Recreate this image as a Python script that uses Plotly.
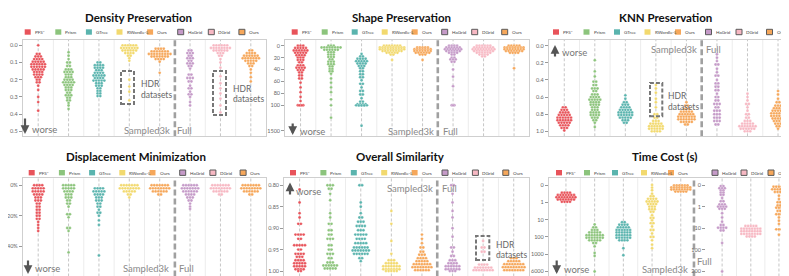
import math
import plotly.graph_objects as go

W, H = 789, 276

methods = ["PFS*", "Prism", "GTree", "RWordle-L", "Ours", "HaGrid", "DGrid", "Ours"]
colors = ["#e8535a", "#8cc47c", "#5ab4ae", "#f2d96e", "#f6a75a", "#c59ac8", "#f7b8c3", "#f6a75a"]

# ---- data: each group is a list of (value, number of dots at that value) ----
density_rows = [
    [(0.00, 1), (0.05, 2), (0.065, 3), (0.08, 4), (0.095, 5), (0.11, 6), (0.125, 6), (0.14, 5), (0.155, 4), (0.17, 4), (0.185, 3), (0.20, 2), (0.215, 2), (0.235, 1), (0.26, 1), (0.30, 1), (0.33, 1), (0.38, 1)],
    [(0.04, 1), (0.06, 1), (0.08, 1), (0.10, 2), (0.12, 2), (0.14, 3), (0.155, 4), (0.17, 3), (0.185, 3), (0.20, 4), (0.215, 5), (0.23, 4), (0.245, 3), (0.26, 3), (0.275, 2), (0.29, 3), (0.305, 2), (0.32, 2), (0.335, 1), (0.35, 1), (0.37, 1)],
    [(0.10, 2), (0.115, 4), (0.13, 4), (0.145, 3), (0.16, 4), (0.175, 5), (0.19, 4), (0.205, 5), (0.22, 3), (0.235, 3), (0.25, 2), (0.265, 2), (0.28, 2), (0.295, 2)],
    [(0.00, 6), (0.015, 7), (0.03, 6), (0.045, 4), (0.06, 2), (0.075, 1), (0.09, 1), (0.20, 1), (0.24, 1), (0.27, 1), (0.32, 1)],
    [(0.02, 4), (0.035, 7), (0.05, 9), (0.065, 7), (0.08, 4), (0.095, 1), (0.16, 1)],
    [(0.03, 2), (0.045, 3), (0.06, 2), (0.075, 3), (0.09, 2), (0.105, 3), (0.12, 2), (0.135, 1), (0.17, 2), (0.19, 3), (0.21, 2), (0.235, 1), (0.25, 2), (0.27, 1), (0.285, 2), (0.30, 1), (0.33, 1), (0.35, 1)],
    [(0.00, 6), (0.015, 8), (0.03, 6), (0.045, 3), (0.06, 2), (0.08, 1), (0.10, 1), (0.13, 1), (0.18, 1), (0.22, 1), (0.25, 1), (0.28, 1), (0.31, 1), (0.35, 1), (0.39, 1)],
    [(0.03, 2), (0.045, 4), (0.06, 6), (0.075, 7), (0.09, 5), (0.105, 3), (0.12, 2), (0.14, 1), (0.16, 1), (0.185, 1), (0.21, 1)],
]
density_ticks = [0.0, 0.1, 0.2, 0.3, 0.4, 0.5]
density_labels = ["0.0", "0.1", "0.2", "0.3", "0.4", "0.5"]

shape_rows = [
    [(0, 3), (4, 5), (8, 6), (12, 5), (16, 4), (20, 3), (24, 3), (28, 2), (33, 3), (37, 4), (41, 3), (45, 2), (50, 2), (55, 2), (62, 1), (70, 1), (78, 1), (86, 1), (93, 1), (100, 3), (104, 2)],
    [(0, 3), (3, 8), (7, 6), (11, 3), (15, 3), (19, 3), (23, 2), (27, 3), (31, 3), (35, 2), (39, 2), (43, 2), (47, 1), (55, 1), (62, 1), (70, 1), (78, 1), (90, 1), (104, 1), (780, 1)],
    [(14, 1), (18, 2), (22, 4), (26, 5), (30, 4), (34, 3), (38, 2), (43, 2), (48, 2), (53, 2), (58, 1), (64, 2), (70, 1), (76, 2), (82, 2), (88, 1), (94, 2), (98, 4), (102, 5), (106, 3), (1230, 1)],
    [(0, 7), (3, 10), (6, 10), (9, 8), (12, 5), (15, 2), (24, 1)],
    [(3, 5), (6, 7), (9, 7), (12, 6), (15, 3), (24, 1)],
    [(0, 4), (3, 6), (6, 7), (9, 6), (12, 4), (15, 2), (20, 2), (23, 3), (27, 2), (40, 1), (52, 1), (68, 1), (100, 2), (104, 1)],
    [(0, 6), (3, 8), (6, 9), (9, 8), (12, 6), (15, 4), (18, 2)],
    [(0, 5), (3, 8), (6, 8), (9, 7), (12, 4), (38, 1)],
]
shape_ticks = [0, 20, 40, 60, 80, 100, 1500]
shape_labels = ["0", "20", "40", "60", "80", "100", "1500"]

knn_rows = [
    [(0.72, 2), (0.75, 3), (0.78, 4), (0.81, 5), (0.84, 6), (0.87, 6), (0.90, 5), (0.93, 4), (0.96, 3), (0.99, 1)],
    [(0.17, 1), (0.30, 1), (0.36, 1), (0.42, 2), (0.46, 2), (0.50, 3), (0.53, 2), (0.57, 3), (0.60, 4), (0.63, 5), (0.66, 4), (0.69, 4), (0.72, 3), (0.75, 3), (0.78, 4), (0.81, 4), (0.84, 3), (0.87, 2), (0.90, 1), (0.95, 1)],
    [(0.58, 1), (0.62, 1), (0.66, 2), (0.69, 3), (0.72, 4), (0.75, 5), (0.78, 6), (0.81, 6), (0.84, 5), (0.87, 3), (0.90, 2)],
    [(0.46, 1), (0.50, 1), (0.55, 1), (0.62, 1), (0.66, 1), (0.72, 1), (0.80, 2), (0.84, 2), (0.88, 3), (0.91, 5), (0.94, 6), (0.97, 6), (1.00, 4)],
    [(0.66, 1), (0.70, 2), (0.74, 3), (0.77, 5), (0.80, 6), (0.83, 7), (0.86, 7), (0.89, 5), (0.92, 2)],
    [(0.10, 1), (0.14, 1), (0.18, 1), (0.22, 2), (0.27, 1), (0.31, 1), (0.35, 2), (0.40, 1), (0.44, 2), (0.48, 2), (0.52, 2), (0.56, 1), (0.60, 2), (0.64, 2), (0.68, 3), (0.72, 2), (0.76, 3), (0.80, 3), (0.84, 3), (0.88, 3), (0.92, 2)],
    [(0.56, 1), (0.60, 1), (0.64, 1), (0.68, 2), (0.72, 1), (0.76, 1), (0.80, 2), (0.84, 2), (0.88, 3), (0.91, 5), (0.94, 7), (0.97, 6), (1.00, 3)],
    [(0.53, 1), (0.57, 1), (0.62, 1), (0.66, 2), (0.70, 3), (0.73, 4), (0.76, 5), (0.79, 6), (0.82, 6), (0.85, 5), (0.88, 4), (0.91, 3), (0.94, 2), (0.97, 1)],
]
knn_ticks = [0.0, 0.2, 0.4, 0.6, 0.8, 1.0]
knn_labels = ["0.0", "0.2", "0.4", "0.6", "0.8", "1.0"]

displacement_rows = [
    [(0, 4), (2, 5), (4, 5), (6, 4), (8, 3), (10, 3), (12, 2), (14, 2), (16, 2), (18, 2), (20, 2), (22, 2), (24, 1), (26, 1), (28, 1), (30, 1)],
    [(0, 5), (2, 5), (4, 4), (6, 3), (8, 3), (10, 2), (12, 2), (14, 1), (19, 2), (21, 1), (28, 2), (30, 1), (44, 1)],
    [(2, 4), (4, 5), (6, 4), (8, 3), (10, 3), (12, 2), (14, 2), (16, 1), (18, 2), (20, 1), (23, 1), (26, 1), (46, 1)],
    [(0, 7), (2, 8), (4, 5), (6, 2), (8, 1)],
    [(0, 7), (2, 8), (4, 6), (6, 2)],
    [(0, 6), (2, 7), (4, 6), (6, 4), (8, 3), (10, 2), (12, 1), (14, 1), (15.5, 1)],
    [(0, 7), (2, 8), (4, 6), (6, 2)],
    [(0, 7), (2, 8), (4, 6), (6, 2)],
]
displacement_ticks = [0, 20, 40, 60]
displacement_labels = ["0%", "20%", "40%", "60%"]

similarity_rows = [
    [(0.81, 1), (0.84, 1), (0.865, 1), (0.875, 1), (0.89, 2), (0.915, 4), (0.925, 2), (0.94, 5), (0.95, 2), (0.96, 4), (0.967, 3), (0.975, 4), (0.982, 5), (0.989, 5), (0.996, 4), (1.0, 2)],
    [(0.80, 3), (0.808, 2), (0.82, 1), (0.835, 1), (0.865, 1), (0.875, 1), (0.89, 2), (0.905, 2), (0.915, 2), (0.925, 3), (0.94, 2), (0.95, 2), (0.96, 3), (0.97, 2), (0.98, 3), (0.987, 6), (0.994, 5)],
    [(0.80, 2), (0.84, 1), (0.85, 1), (0.865, 1), (0.875, 2), (0.885, 3), (0.895, 4), (0.905, 3), (0.915, 5), (0.925, 4), (0.935, 5), (0.945, 6), (0.952, 7), (0.96, 6), (0.97, 2), (0.977, 1)],
    [(0.86, 1), (0.89, 1), (0.93, 1), (0.96, 1), (0.975, 3), (0.982, 5), (0.989, 7), (0.996, 7), (1.0, 5)],
    [(0.915, 1), (0.925, 1), (0.935, 1), (0.945, 2), (0.955, 2), (0.962, 3), (0.97, 4), (0.977, 5), (0.984, 7), (0.991, 8), (0.998, 6)],
    [(0.80, 2), (0.82, 1), (0.84, 1), (0.86, 1), (0.875, 1), (0.90, 1), (0.92, 1), (0.945, 2), (0.955, 1), (0.965, 2), (0.975, 3), (0.982, 4), (0.989, 6), (0.996, 6), (1.0, 3)],
    [(0.93, 1), (0.945, 2), (0.955, 2), (0.985, 4), (0.992, 7), (0.998, 8)],
    [(0.97, 3), (0.977, 5), (0.984, 8), (0.991, 9), (0.998, 8)],
]
similarity_ticks = [0.80, 0.85, 0.90, 0.95, 1.00]
similarity_labels = ["0.80", "0.85", "0.90", "0.95", "1.00"]

time_rows = [
    [(0.45, 4), (0.58, 7), (0.71, 8), (0.84, 7), (0.97, 4)],
    [(19, 1), (28, 2), (40, 3), (56, 5), (79, 7), (112, 7), (158, 5), (224, 2), (355, 1), (850, 1), (1500, 1), (6000, 1)],
    [(14, 2), (20, 4), (28, 5), (40, 6), (56, 6), (79, 6), (112, 6), (158, 4), (450, 1), (1300, 1)],
    [(0.0, 1), (0.15, 1), (0.3, 1), (0.5, 1), (0.65, 2), (0.8, 4), (0.95, 5), (1.26, 4), (1.78, 3), (2.5, 3), (3.5, 2), (5.6, 1), (8, 2), (11, 1), (16, 2), (25, 1), (40, 2), (63, 1), (100, 2), (158, 1), (280, 1), (450, 1)],
    [(0.02, 6), (0.14, 8), (0.26, 8), (0.38, 5)],
    [(0.05, 2), (0.15, 3), (0.25, 2), (0.35, 2), (0.45, 2), (0.6, 1), (0.75, 2), (0.9, 3), (1.0, 4), (1.26, 3), (2.0, 1), (3.2, 1), (5.0, 1), (7.1, 2), (9.5, 4), (12.6, 2), (48, 1), (200, 1)],
    [(7.9, 5), (10.5, 8), (13.8, 8), (18.2, 8), (24, 4)],
    [(0.08, 5), (0.2, 6), (0.32, 4), (0.5, 1), (0.65, 1), (0.8, 2), (0.95, 2), (1.12, 3), (1.58, 2), (2.24, 3), (3.16, 1), (4.47, 1), (6.3, 1), (11.2, 3), (20, 1)],
]
time_ticks_sampled = [0, 1, 10, 100, 1000, 6000]
time_ticks_full = [0, 1, 10, 100, 200]


# ---- broken-axis scales ----
def ident(v):
    return v


def shape_scale(v):
    return v if v <= 100 else 100 + (v - 100) * 42.6 / 1400


def time_scale_sampled(v):
    if v <= 1:
        return v
    if v <= 1000:
        return 1 + math.log10(v)
    return 4 + (v - 1000) / 5000


def time_scale_full(v):
    if v <= 1:
        return v
    if v <= 100:
        return 1 + math.log10(v)
    return 3 + (v - 100) / 100


def px(x):
    return x / W


def py(y):
    return 1 - y / H


GRAY_TXT = "#8a8a8a"
FONT = "Lato"

panels = [
    dict(title="Density Preservation", tc=(130, 9.5), box=(15, 258, 31.7, 128.3),
         rows=density_rows, tf=ident, yr=(0.529, -0.033), ticks=density_ticks, labels=density_labels,
         legend=[16.7 + 30.6 * i for i in range(8)], ly=24,
         worse=(22, 122, 17, 109, 126), samp=(138.5, 122.5), full=(176, 122.5),
         hdr=[((113, 126, 63, 96), (131, 76, 87.3)), ((205, 218, 63, 107), (222.7, 81, 90.7))]),
    dict(title="Shape Preservation", tc=(393, 9.5), box=(277.3, 521.3, 31.7, 128.3),
         rows=shape_rows, tf=shape_scale, yr=(152, -10), ticks=[shape_scale(t) for t in shape_ticks], labels=shape_labels,
         legend=[283.7 + 30 * i for i in range(8)], ly=24,
         worse=(289.7, 123.3, 284.7, 114, 127), samp=(403, 123), full=(442.5, 123), hdr=[]),
    dict(title="KNN Preservation", tc=(657.7, 9.5), box=(541, 785.3, 31.7, 128.3),
         rows=knn_rows, tf=ident, yr=(1.058, -0.07), ticks=knn_ticks, labels=knn_labels,
         legend=[545 + 30.5 * i for i in range(8)], ly=24,
         worse=(552, 44.3, 547, 50, 37), samp=(666, 41.5), full=(705.5, 41.5),
         hdr=[((642, 654.3, 75, 108.3), (657.7, 88.3, 99.3))]),
    dict(title="Displacement Minimization", tc=(128.3, 148), box=(15, 258, 170.3, 268.5),
         rows=displacement_rows, tf=ident, yr=(59.8, -4.6), ticks=displacement_ticks, labels=displacement_labels,
         legend=[20.7 + 30.2 * i for i in range(8)], ly=164.7,
         worse=(25, 260.7, 20, 251, 266), samp=(138.3, 260.7), full=(178, 260.7), hdr=[]),
    dict(title="Overall Similarity", tc=(392, 148), box=(276.3, 521, 170.3, 268.5),
         rows=similarity_rows, tf=ident, yr=(1.0128, 0.7837), ticks=similarity_ticks, labels=similarity_labels,
         legend=[282 + 30.4 * i for i in range(8)], ly=164.7,
         worse=(286.3, 183.7, 282, 188, 174.5), samp=(402, 180.7), full=(441.7, 180.7),
         hdr=[((468, 481.3, 228, 252), (485.7, 237.3, 247.3))]),
    dict(title="Time Cost (s)", tc=(656.8, 148), box=(541, 785.3, 170.3, 268.5),
         rows=time_rows, tf=time_scale_sampled, yr=(5.29, -0.39),
         ticks=[time_scale_sampled(t) for t in time_ticks_sampled], labels=[str(t) for t in time_ticks_sampled],
         legend=[548, 576, 604, 633, 660, 704, 733, 760], ly=164.7,
         worse=(553.7, 261.3, 548.7, 251, 266), samp=(656.7, 261.3), full=(696.3, 253), hdr=[]),
]

fig = go.Figure()
shapes, annotations = [], []
layout = dict(width=W, height=H, margin=dict(l=0, r=0, t=0, b=0), paper_bgcolor="white",
              plot_bgcolor="white", showlegend=False)

for k, p in enumerate(panels, start=1):
    sfx = "" if k == 1 else str(k)
    xref, yref = "x" + sfx, "y" + sfx
    x0, x1, y0, y1 = p["box"]
    if k == 6:
        centers = [0, 1, 2, 3, 4, 5.44, 6.44, 7.42]
        xr = (-0.59, 7.92)
        thin = [0.5, 1.5, 2.5, 3.5, 5.94, 6.93]
        sep = 4.46
    else:
        centers = list(range(8))
        xr = (-0.5, 7.5)
        thin = [0.5, 1.5, 2.5, 3.5, 5.5, 6.5]
        sep = 4.5
    ppu = (x1 - x0) / (xr[1] - xr[0])
    dx = 2.7 / ppu

    layout["xaxis" + sfx] = dict(domain=[px(x0), px(x1)], range=list(xr), anchor=yref,
                                 showline=True, mirror=True, linecolor="#cfcfcf", linewidth=1.3,
                                 showgrid=False, zeroline=False, showticklabels=False, ticks="")
    layout["yaxis" + sfx] = dict(domain=[py(y1), py(y0)], range=list(p["yr"]), anchor=xref,
                                 tickmode="array", tickvals=p["ticks"], ticktext=p["labels"],
                                 ticks="outside", ticklen=3, tickwidth=1, tickcolor="#999",
                                 tickfont=dict(family=FONT, size=5.5, color="#666"),
                                 showline=True, mirror=True, linecolor="#cfcfcf", linewidth=1.3,
                                 showgrid=False, zeroline=False)

    # guide lines
    for c in centers:
        shapes.append(dict(type="line", xref=xref, yref=yref + " domain", x0=c, x1=c, y0=0, y1=1,
                           line=dict(color="#b8b8b8", width=0.8, dash="3px,2px"), layer="below"))
    for t in thin:
        shapes.append(dict(type="line", xref=xref, yref=yref + " domain", x0=t, x1=t, y0=0, y1=1,
                           line=dict(color="#ececec", width=1), layer="below"))
    shapes.append(dict(type="line", xref=xref, yref=yref + " domain", x0=sep, x1=sep, y0=0, y1=1,
                       line=dict(color="#a0a0a0", width=2.6, dash="6px,3px"), layer="below"))

    # dots
    for g, rows in enumerate(p["rows"]):
        tf = p["tf"]
        ya = yref
        if k == 6 and g >= 5:
            tf = time_scale_full
            ya = "y7"
        xs, ys = [], []
        for v, n in rows:
            for i in range(n):
                xs.append(centers[g] + (i - (n - 1) / 2) * dx)
                ys.append(tf(v))
        fig.add_trace(go.Scatter(x=xs, y=ys, xaxis=xref, yaxis=ya, mode="markers", name=methods[g],
                                 marker=dict(color=colors[g], size=2.9,
                                             line=dict(color="white", width=0.25)),
                                 hoverinfo="skip"))

    # legend
    for g, lx in enumerate(p["legend"]):
        ly = p["ly"]
        shapes.append(dict(type="rect", xref="paper", yref="paper", x0=px(lx), x1=px(lx + 6),
                           y0=py(ly + 2.7), y1=py(ly - 2.7), fillcolor=colors[g],
                           line=dict(color="#5a5a5a" if g >= 5 else colors[g], width=1 if g >= 5 else 0)))
        annotations.append(dict(text=methods[g], x=px(lx + 8), y=py(ly), xref="paper", yref="paper",
                                xanchor="left", yanchor="middle", showarrow=False,
                                font=dict(family=FONT, size=4.6, color="#444")))

    # title
    annotations.append(dict(text=p["title"], x=px(p["tc"][0]), y=py(p["tc"][1]), xref="paper", yref="paper",
                            xanchor="center", yanchor="middle", showarrow=False,
                            font=dict(family=FONT, size=11.5, color="#111", weight="bold")))

    # worse arrow + texts
    wx, wy, ax_, ytail, ytip = p["worse"]
    annotations.append(dict(text="", x=px(ax_), y=py(ytip), xref="paper", yref="paper",
                            ax=0, ay=ytail - ytip, showarrow=True, arrowhead=2, arrowsize=0.8,
                            arrowwidth=2.2, arrowcolor="#555", standoff=0, startstandoff=0))
    annotations.append(dict(text="worse", x=px(wx), y=py(wy), xref="paper", yref="paper",
                            xanchor="left", yanchor="middle", showarrow=False,
                            font=dict(family=FONT, size=9.5, color="#777")))
    annotations.append(dict(text="Sampled3k", x=px(p["samp"][0]), y=py(p["samp"][1]), xref="paper",
                            yref="paper", xanchor="center", yanchor="middle", showarrow=False,
                            font=dict(family=FONT, size=9.5, color=GRAY_TXT)))
    annotations.append(dict(text="Full", x=px(p["full"][0]), y=py(p["full"][1]), xref="paper",
                            yref="paper", xanchor="center", yanchor="middle", showarrow=False,
                            font=dict(family=FONT, size=9.5, color=GRAY_TXT)))

    for (bx0, bx1, by0, by1), (tx, ty1, ty2) in p["hdr"]:
        shapes.append(dict(type="rect", xref="paper", yref="paper", x0=px(bx0), x1=px(bx1),
                           y0=py(by1), y1=py(by0), line=dict(color="#777", width=2, dash="4px,2px")))
        for txt, ty in (("HDR", ty1), ("datasets", ty2)):
            annotations.append(dict(text=txt, x=px(tx), y=py(ty), xref="paper", yref="paper",
                                    xanchor="left", yanchor="middle", showarrow=False,
                                    font=dict(family=FONT, size=8.5, color="#666")))

# second scale for the Full part of the time panel
layout["yaxis7"] = dict(overlaying="y6", anchor="free", position=px(697), side="left",
                        range=[4.23, -0.31], tickmode="array",
                        tickvals=[time_scale_full(t) for t in time_ticks_full],
                        ticktext=[str(t) for t in time_ticks_full],
                        ticks="outside", ticklen=3, tickwidth=1, tickcolor="#999",
                        tickfont=dict(family=FONT, size=5.5, color="#666"),
                        showline=False, showgrid=False, zeroline=False)

layout["shapes"] = shapes
layout["annotations"] = annotations
fig.update_layout(**layout)
fig.write_html("out.html", config={"displayModeBar": False})
